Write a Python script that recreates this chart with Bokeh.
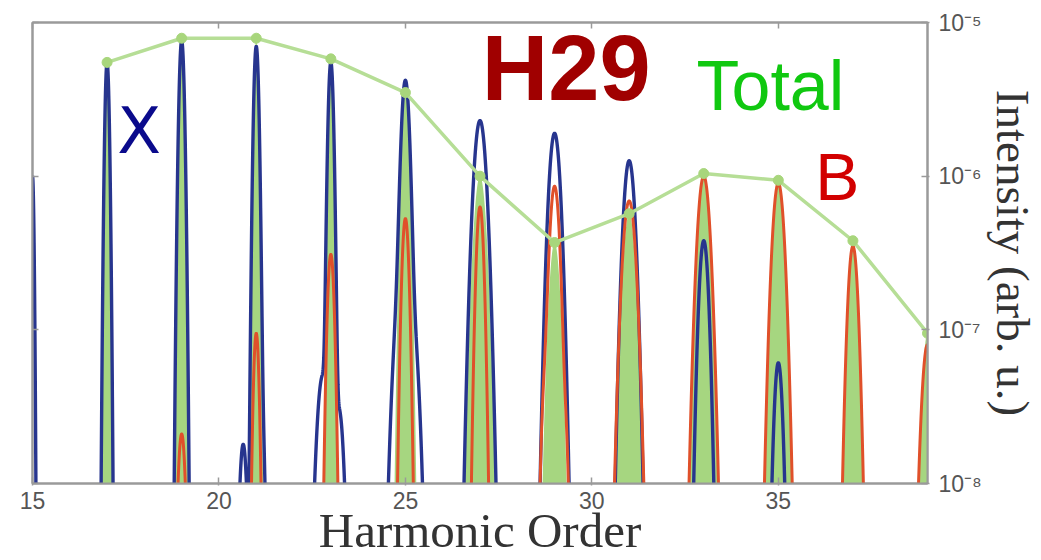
import numpy as np
from bokeh.plotting import figure
from bokeh.models import Range1d, FixedTicker, LinearAxis, Label, CustomJSTickFormatter, ColumnDataSource
from bokeh.embed import file_html
from bokeh.resources import INLINE

# ---------------- data ----------------
# Total intensity at each odd harmonic (green markers)
total_harm = [17, 19, 21, 23, 25, 27, 29, 31, 33, 35, 37, 39]
total_peak = [5.5e-6, 7.9e-6, 7.9e-6, 5.8e-6, 3.5e-6, 1.0e-6, 3.7e-7, 5.7e-7, 1.04e-6, 9.4e-7, 3.8e-7, 9.5e-8]
total_width = [0.04, 0.05, 0.05, 0.055, 0.085, 0.135, 0.12, 0.13, 0.125, 0.118, 0.10, 0.11]

# X component (blue) peaks
x_harm = [15, 17, 19, 21, 23, 25, 27, 29, 31, 33, 35]
x_peak = [1.0e-6, 5.5e-6, 7.6e-6, 7.0e-6, 5.5e-6, 4.1e-6, 2.3e-6, 1.9e-6, 1.26e-6, 3.8e-7, 6.1e-8]
x_width = [0.03, 0.045, 0.055, 0.053, 0.056, 0.085, 0.13, 0.12, 0.12, 0.10, 0.09]
# X component side shoulders
x_sh_pos = [20.65, 21.15, 22.78, 23.22, 24.85, 25.2]
x_sh_peak = [1.8e-8, 2.5e-8, 5.0e-8, 3.0e-8, 1.6e-7, 1.0e-7]
x_sh_width = [0.08, 0.06, 0.12, 0.10, 0.13, 0.12]

# B component (red) peaks
b_harm = [19, 21, 23, 25, 27, 29, 31, 33, 35, 37, 39]
b_peak = [2.1e-8, 9.5e-8, 3.1e-7, 5.3e-7, 6.3e-7, 8.6e-7, 6.9e-7, 1.0e-6, 9.0e-7, 3.5e-7, 8.0e-8]
b_width = [0.08, 0.06, 0.072, 0.075, 0.08, 0.105, 0.135, 0.13, 0.124, 0.105, 0.118]
b_sh_pos = [28.72, 29.3]
b_sh_peak = [3.0e-8, 1.6e-8]
b_sh_width = [0.07, 0.06]

x_ticks = [15, 20, 25, 30, 35]
y_ticks = [1e-8, 1e-7, 1e-6, 1e-5]
y_tick_labels = ["10\u207b\u2078", "10\u207b\u2077", "10\u207b\u2076", "10\u207b\u2075"]

# ---------------- spectra built from the peak parameters ----------------
grid = np.linspace(15, 39, 9601)


def spectrum(centers, heights, widths):
    s = np.zeros_like(grid)
    for c, h, w in zip(centers, heights, widths):
        s += h * np.exp(-(grid - c) ** 2 / (2 * w * w))
    return np.maximum(s, 1e-11)


tot = spectrum(total_harm, total_peak, total_width)
xs = spectrum(x_harm + x_sh_pos, x_peak + x_sh_peak, x_width + x_sh_width)
bs = spectrum(b_harm + b_sh_pos, b_peak + b_sh_peak, b_width + b_sh_width)

src = ColumnDataSource(dict(x=grid, tot=tot, xs=xs, bs=bs, floor=np.full_like(grid, 1e-11)))

# ---------------- figure ----------------
p = figure(width=1041, height=560, x_range=Range1d(15, 39), y_range=Range1d(1e-8, 1e-5),
           y_axis_type="log", y_axis_location="right", output_backend="svg",
           toolbar_location=None, min_border_left=32, min_border_right=114,
           min_border_top=22, min_border_bottom=76)
p.grid.visible = False
p.outline_line_color = "#9a9a9a"
p.outline_line_width = 2
p.background_fill_color = "white"
p.border_fill_color = "white"

p.varea(x="x", y1="floor", y2="tot", source=src, fill_color="#a6d680", fill_alpha=1.0)
p.line(x="x", y="xs", source=src, line_color="#27358e", line_width=3.4)
p.line(x="x", y="bs", source=src, line_color="#e0502a", line_width=3.0)
p.line(total_harm, total_peak, line_color="#b6de96", line_width=3.5)
p.scatter(total_harm, total_peak, size=10, fill_color="#a8d67c", line_color="#a8d67c")

# axes styling
GRAY = "#9a9a9a"
xa = p.xaxis[0]
xa.ticker = FixedTicker(ticks=x_ticks)
ya = p.yaxis[0]
ya.ticker = FixedTicker(ticks=y_ticks)
ya.formatter = CustomJSTickFormatter(args=dict(vals=y_ticks, labs=y_tick_labels), code="""
let best = 0;
for (let i = 0; i < vals.length; i++) {
  if (Math.abs(Math.log10(vals[i]) - Math.log10(tick)) < Math.abs(Math.log10(vals[best]) - Math.log10(tick))) best = i;
}
return labs[best];
""")
for ax in (xa, ya):
    ax.axis_line_color = GRAY
    ax.axis_line_width = 2
    ax.major_tick_line_color = GRAY
    ax.major_tick_line_width = 1.5
    ax.major_tick_in = 6
    ax.major_tick_out = 2
    ax.minor_tick_line_color = None
    ax.major_label_text_font = "Liberation Sans"
    ax.major_label_text_font_size = "23px"
    ax.major_label_text_color = "#555555"
    ax.axis_label_text_font = "Liberation Serif"
    ax.axis_label_text_font_style = "normal"
    ax.axis_label_text_color = "#333333"
xa.major_label_standoff = 6
ya.major_label_standoff = 9
xa.axis_label = "Harmonic Order"
xa.axis_label_text_font_size = "49px"
xa.axis_label_standoff = -9
ya.axis_label = "Intensity (arb. u.)"
ya.axis_label_text_font_size = "47px"
ya.axis_label_standoff = 2

top = LinearAxis(ticker=FixedTicker(ticks=x_ticks), formatter=CustomJSTickFormatter(code="return ' ';"))
left = LinearAxis(ticker=FixedTicker(ticks=y_ticks), formatter=CustomJSTickFormatter(code="return ' ';"))
for ax in (top, left):
    ax.axis_line_color = GRAY
    ax.axis_line_width = 2
    ax.major_tick_line_color = GRAY
    ax.major_tick_line_width = 1.5
    ax.major_tick_in = 6
    ax.major_tick_out = 0
    ax.minor_tick_line_color = None
    ax.major_label_text_font_size = "8px"
    ax.major_label_text_alpha = 0
    ax.major_label_standoff = 0
p.add_layout(top, "above")
p.add_layout(left, "left")


def px_to_data(px, py):
    return 15 + (px - 31) / 37.35, 10 ** (-5 - (py - 22) / 154.0)


def add_label(text, px, py, color, size, font="Liberation Sans", style="normal"):
    # py is the wanted baseline; shift for how the label anchors its text
    x, y = px_to_data(px, py - 0.38 * size)
    p.add_layout(Label(x=x, y=y, text=text, text_color=color, text_font=font,
                       text_font_size=f"{size}px", text_font_style=style,
                       text_align="left", text_baseline="alphabetic"))


add_label("X", 116, 155, "#0a0a8c", 64, font="DejaVu Sans")
add_label("H29", 481, 103, "#a00000", 92, style="bold")
add_label("Total", 696, 112, "#10c810", 70)
add_label("B", 815, 202, "#d20000", 66)

open("out.html", "w").write(file_html(p, INLINE))
